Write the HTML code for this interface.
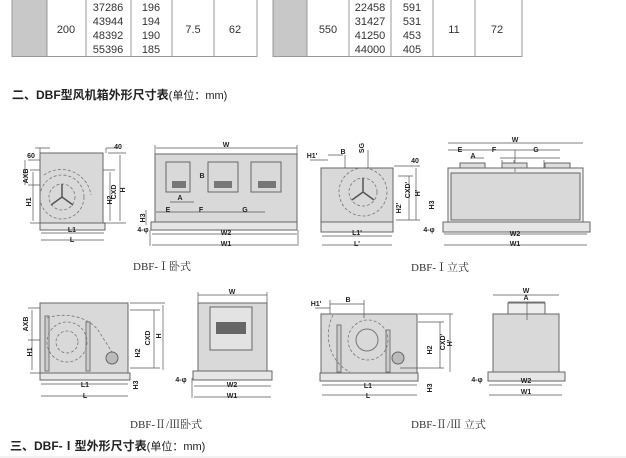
<!DOCTYPE html>
<html><head><meta charset="utf-8"><style>
html,body{margin:0;padding:0;background:#fff;}
svg{display:block;}
text{font-family:"Liberation Sans","Noto Sans CJK SC",sans-serif;}
.t{font-size:11px;fill:#333;text-anchor:middle;}
.d{font-size:7px;fill:#222;font-weight:bold;text-anchor:middle;}
.cap{font-family:"Liberation Serif","Noto Serif CJK SC",serif;font-size:11px;fill:#333;}
.box{fill:#d9d9d9;stroke:#666;stroke-width:1;}
.base{fill:#e6e6e6;stroke:#666;stroke-width:1;}
.ln{stroke:#555;stroke-width:0.7;fill:none;}
.dash{stroke:#777;stroke-width:0.8;fill:none;stroke-dasharray:3 2;}
</style></head><body>
<svg width="626" height="458" viewBox="0 0 626 458" xmlns="http://www.w3.org/2000/svg">
<!-- Tables -->
<rect x="12" y="0" width="35" height="56" fill="#c8c8c8"/>
<g stroke="#999" stroke-width="1" fill="none">
<path d="M12 0V56.5H257V0M47 0V56M86 0V56M131 0V56M172 0V56M214 0V56"/>
</g>
<rect x="273" y="0" width="34" height="56" fill="#c8c8c8"/>
<g stroke="#999" stroke-width="1" fill="none">
<path d="M273 0V56.5H522V0M307 0V56M349 0V56M391 0V56M433 0V56M475 0V56"/>
</g>
<g class="t">
<text x="66" y="33">200</text>
<text x="108" y="11">37286</text><text x="108" y="25">43944</text><text x="108" y="39">48392</text><text x="108" y="53">55396</text>
<text x="151" y="11">196</text><text x="151" y="25">194</text><text x="151" y="39">190</text><text x="151" y="53">185</text>
<text x="193" y="33">7.5</text><text x="235" y="33">62</text>
<text x="328" y="33">550</text>
<text x="370" y="11">22458</text><text x="370" y="25">31427</text><text x="370" y="39">41250</text><text x="370" y="53">44000</text>
<text x="412" y="11">591</text><text x="412" y="25">531</text><text x="412" y="39">453</text><text x="412" y="53">405</text>
<text x="454" y="33">11</text><text x="497" y="33">72</text>
</g>
<text x="12" y="99" font-size="12" font-weight="bold" fill="#222">二、DBF型风机箱外形尺寸表<tspan font-weight="normal" font-size="11">(单位：mm)</tspan></text>

<!-- Diagram 1 side -->
<rect class="box" x="40" y="153" width="63" height="70"/>
<rect class="base" x="40" y="223" width="65" height="7"/>
<circle class="dash" cx="62" cy="197" r="22"/><circle class="dash" cx="62" cy="197" r="13"/>
<path class="dash" d="M44 175 A30 30 0 0 1 91 195"/>
<path d="M62 197L62 184M62 197L51 205M62 197L73 205" stroke="#555" stroke-width="1.5"/>
<path class="ln" d="M108 153H126M108 223H126M120 155V221M103 170H115M103 223H115M110 172V221M30 170H40M30 223H40M33 172V221M28 160H40M28 185H40M25 160V185M40 148V153M35 148H50M106 148V153M106 148H118"/>
<path class="ln" d="M41 233H104M41 240H104"/>
<text class="d" x="31" y="158">60</text><text class="d" x="118" y="149">40</text>
<text class="d" x="28" y="176" transform="rotate(-90 28 176)">AXB</text>
<text class="d" x="31" y="202" transform="rotate(-90 31 202)">H1</text>
<text class="d" x="116" y="192" transform="rotate(-90 116 192)">CXD</text>
<text class="d" x="125" y="190" transform="rotate(-90 125 190)">H</text>
<text class="d" x="112" y="200" transform="rotate(-90 112 200)">H2</text>
<text class="d" x="72" y="232" font-size="9">L1</text><text class="d" x="72" y="242" font-size="9">L</text>
<!-- Diagram 1 front -->
<rect class="box" x="155" y="154" width="142" height="68"/>
<rect class="base" x="151" y="222" width="146" height="8"/>
<g fill="none" stroke="#666">
<rect x="166" y="162" width="24" height="30"/><rect x="208" y="162" width="30" height="30"/><rect x="251" y="162" width="30" height="30"/>
</g>
<g fill="#777"><rect x="172" y="181" width="14" height="7"/><rect x="214" y="181" width="18" height="7"/><rect x="258" y="181" width="18" height="7"/></g>
<path class="ln" d="M156 148H297M155 145V154M297 145V154M156 212H265M170 202H194M152 234H297M152 245H297M150 230V246M298 230V246M146 210V225"/>
<text class="d" x="226" y="147" font-size="8">W</text>
<text class="d" x="180" y="200">A</text><text class="d" x="168" y="212">E</text><text class="d" x="201" y="212">F</text><text class="d" x="245" y="212">G</text>
<text class="d" x="202" y="178">B</text>
<text class="d" x="226" y="235" font-size="8">W2</text><text class="d" x="226" y="246" font-size="8">W1</text>
<text class="d" x="145" y="218" transform="rotate(-90 145 218)">H3</text>
<text class="d" x="143" y="232">4-φ</text>
<text class="cap" x="133" y="270">DBF-Ⅰ卧式</text>

<!-- Diagram 2 side -->
<rect class="box" x="321" y="168" width="72" height="54"/>
<rect class="base" x="321" y="222" width="72" height="10"/>
<circle class="dash" cx="363" cy="192" r="24"/><circle class="dash" cx="363" cy="192" r="14"/>
<path d="M363 192L363 178M363 192L352 200M363 192L374 200" stroke="#555" stroke-width="1.5"/>
<path class="ln" d="M322 236H392M322 245H392M328 155H343M345 155V168M368 150V168M394 166H420M398 176H413M409 176V220M396 220H420M416 168V220M310 160H328"/>
<text class="d" x="343" y="154">B</text><text class="d" x="312" y="158">H1'</text>
<text class="d" x="364" y="148" transform="rotate(-90 364 148)">SG</text>
<text class="d" x="415" y="163">40</text>
<text class="d" x="410" y="190" transform="rotate(-90 410 190)">CXD'</text>
<text class="d" x="420" y="193" transform="rotate(-90 420 193)">H'</text>
<text class="d" x="401" y="208" transform="rotate(-90 401 208)">H2'</text>
<text class="d" x="357" y="235" font-size="9">L1'</text><text class="d" x="357" y="246" font-size="9">L'</text>
<!-- Diagram 2 front -->
<rect x="448" y="168" width="135" height="54" fill="#f0f0f0" stroke="#666"/>
<rect class="box" x="451" y="173" width="129" height="47"/>
<rect class="base" x="443" y="222" width="147" height="10"/>
<path class="ln" d="M448 143H583M448 150H560M470 158H484M500 158H560M460 163H485M502 160V168M514 160V168M544 160V168M515 150V172M444 234H587M444 245H587"/>
<rect x="460" y="163" width="25" height="5" fill="#ddd" stroke="#666"/><rect x="502" y="163" width="25" height="5" fill="#ddd" stroke="#666"/><rect x="545" y="163" width="25" height="5" fill="#ddd" stroke="#666"/>
<text class="d" x="515" y="142" font-size="8">W</text>
<text class="d" x="460" y="152">E</text><text class="d" x="494" y="152">F</text><text class="d" x="536" y="152">G</text><text class="d" x="473" y="158">A</text>
<text class="d" x="515" y="236" font-size="8">W2</text><text class="d" x="515" y="246" font-size="8">W1</text>
<text class="d" x="434" y="205" transform="rotate(-90 434 205)">H3</text>
<text class="d" x="429" y="232">4-φ</text>
<text class="cap" x="411" y="271">DBF-Ⅰ立式</text>

<!-- Diagram 3 side -->
<rect class="box" x="40" y="303" width="88" height="70"/>
<rect class="base" x="40" y="373" width="90" height="7"/>
<rect x="45" y="316" width="4" height="55" fill="#ccc" stroke="#777"/><rect x="86" y="322" width="4" height="49" fill="#ccc" stroke="#777"/>
<circle class="dash" cx="67" cy="342" r="20"/><circle class="dash" cx="67" cy="342" r="11"/>
<path class="dash" d="M47 318 A40 30 0 0 1 98 330 L112 352"/>
<circle cx="112" cy="358" r="6" fill="#bbb" stroke="#666"/>
<path class="ln" d="M30 308H40M30 373H40M32 310V370M28 308H40M28 340H40M130 303H165M130 310H160M154 310V368M163 305V370M130 368H160M41 384H128M41 396H128"/>
<text class="d" x="28" y="324" transform="rotate(-90 28 324)">AXB</text>
<text class="d" x="32" y="352" transform="rotate(-90 32 352)">H1</text>
<text class="d" x="150" y="338" transform="rotate(-90 150 338)">CXD</text>
<text class="d" x="161" y="336" transform="rotate(-90 161 336)">H</text>
<text class="d" x="140" y="353" transform="rotate(-90 140 353)">H2</text>
<text class="d" x="138" y="385" transform="rotate(-90 138 385)">H3</text>
<text class="d" x="85" y="387" font-size="9">L1</text><text class="d" x="85" y="398" font-size="9">L</text>
<!-- Diagram 3 front -->
<rect class="box" x="198" y="303" width="69" height="68"/>
<rect class="base" x="193" y="371" width="79" height="9"/>
<rect x="210" y="307" width="42" height="43" fill="#e3e3e3" stroke="#666"/>
<rect x="216" y="322" width="30" height="12" fill="#666"/>
<path class="ln" d="M198 295H267M198 292V303M267 292V303M194 386H271M194 397H271M192 378V398"/>
<text class="d" x="232" y="294" font-size="8">W</text>
<text class="d" x="232" y="387" font-size="8">W2</text><text class="d" x="232" y="398" font-size="8">W1</text>
<text class="d" x="181" y="382">4-φ</text>
<text class="cap" x="130" y="428">DBF-Ⅱ/Ⅲ卧式</text>

<!-- Diagram 4 side -->
<rect class="box" x="321" y="314" width="96" height="59"/>
<rect class="base" x="320" y="373" width="98" height="8"/>
<rect x="337" y="325" width="4" height="47" fill="#ccc" stroke="#777"/><rect x="386" y="330" width="4" height="42" fill="#ccc" stroke="#777"/>
<circle class="dash" cx="368" cy="340" r="20"/><circle fill="none" stroke="#777" cx="367" cy="340" r="11"/>
<path class="dash" d="M333 315 A35 40 0 0 0 350 372"/>
<circle cx="398" cy="358" r="6" fill="#bbb" stroke="#666"/>
<path class="ln" d="M330 304H364M330 300V314M364 300V318M315 308H330M418 314H453M418 322H444M440 322V368M450 314V372M400 368H444M322 385H417M322 395H417"/>
<text class="d" x="348" y="302">B</text><text class="d" x="316" y="306">H1'</text>
<text class="d" x="445" y="342" transform="rotate(-90 445 342)">CXD'</text>
<text class="d" x="452" y="343" transform="rotate(-90 452 343)">H'</text>
<text class="d" x="432" y="350" transform="rotate(-90 432 350)">H2</text>
<text class="d" x="432" y="388" transform="rotate(-90 432 388)">H3</text>
<text class="d" x="368" y="388" font-size="9">L1</text><text class="d" x="368" y="398" font-size="9">L</text>
<!-- Diagram 4 front -->
<rect class="box" x="493" y="314" width="66" height="58"/>
<rect x="508" y="303" width="37" height="11" fill="#eee" stroke="#666"/>
<rect class="base" x="488" y="372" width="77" height="9"/>
<path class="ln" d="M493 295H559M508 302H545M527 302V320M489 385H562M489 395H562"/>
<text class="d" x="526" y="293" font-size="8">W</text><text class="d" x="526" y="300" font-size="8">A</text>
<text class="d" x="526" y="383" font-size="8">W2</text><text class="d" x="526" y="394" font-size="8">W1</text>
<text class="d" x="477" y="382">4-φ</text>
<text class="cap" x="411" y="428">DBF-Ⅱ/Ⅲ 立式</text>

<text x="10" y="450" font-size="12" font-weight="bold" fill="#222">三、DBF-Ⅰ型外形尺寸表<tspan font-weight="normal" font-size="11">(单位：mm)</tspan></text>
<line x1="0" y1="457" x2="626" y2="457" stroke="#e5e5e5"/>
</svg>
</body></html>
